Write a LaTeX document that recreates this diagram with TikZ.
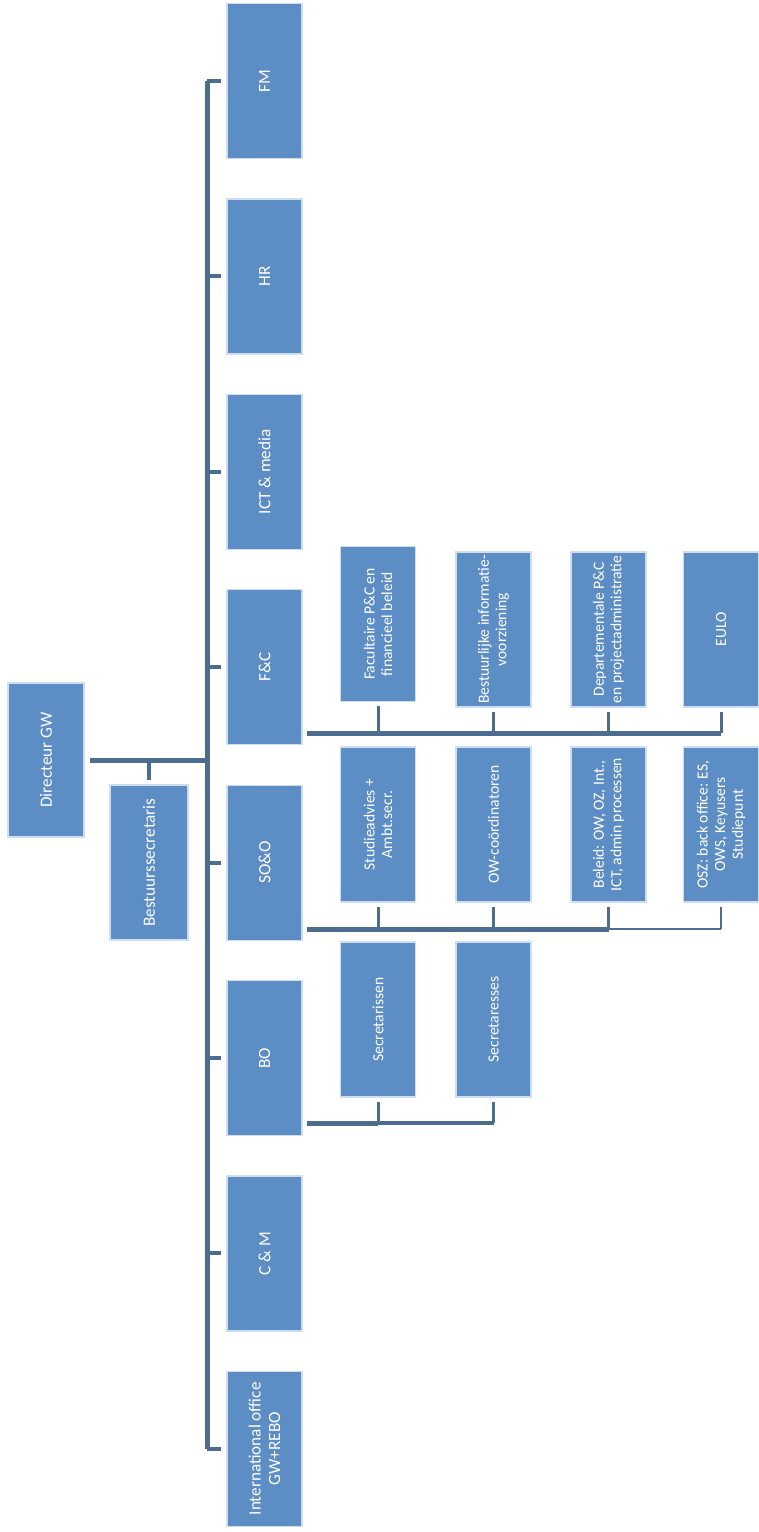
\documentclass[tikz,border=0pt]{standalone}
\usepackage{fontspec}
\setmainfont{Carlito}
\definecolor{boxblue}{RGB}{92,141,196}
\definecolor{boxedge}{RGB}{205,222,240}
\definecolor{linec}{RGB}{76,108,144}
\begin{document}
\begin{tikzpicture}[x=0.5pt,y=-0.5pt,
  box/.style={rotate=90, fill=boxblue, draw=boxedge, line width=0.6pt, text=white,
    font=\fontsize{7.8}{8.8}\selectfont, align=center,
    minimum width=77.5pt, minimum height=37.5pt, inner sep=1pt},
  mainbox/.style={box, font=\fontsize{8.6}{9.8}\selectfont},
  conn/.style={draw=linec, line width=2.5pt},
  stub/.style={draw=linec, line width=2pt},
  cstub/.style={draw=linec, line width=1.5pt},
  thin/.style={draw=linec, line width=1pt}]
\useasboundingbox (0,0) rectangle (759,1532);

% top level
\node[mainbox, minimum height=38pt, minimum width=77pt] (dir) at (46,760) {Directeur GW};
\node[mainbox, minimum height=39pt] (bs) at (149,862.5) {Bestuurssecretaris};

% main column
\node[mainbox] (fm)   at (264.5,81)     {FM};
\node[mainbox] (hr)   at (264.5,276.4)  {HR};
\node[mainbox] (ict)  at (264.5,471.8)  {ICT \& media};
\node[mainbox] (fc)   at (264.5,667.2)  {F\&C};
\node[mainbox] (soo)  at (264.5,862.6)  {SO\&O};
\node[mainbox] (bo)   at (264.5,1058)   {BO};
\node[mainbox] (cm)   at (264.5,1253.4) {C \& M};
\node[mainbox] (intl) at (264.5,1448.8) {International office\\GW+REBO};

% F&C children
\node[box] (fc1) at (378,624)    {Facultaire P\&C en\\financieel beleid};
\node[box] (fc2) at (493.5,629.5) {Bestuurlijke informatie-\\voorziening};
\node[box] (fc3) at (608.5,629.5) {Departementale P\&C\\en projectadministratie};
\node[box] (fc4) at (721,629.5)   {EULO};

% SO&O children
\node[box] (so1) at (378,824.5)   {Studieadvies +\\Ambt.secr.};
\node[box] (so2) at (493.5,824.5) {OW-coördinatoren};
\node[box] (so3) at (608.5,824.5) {Beleid: OW, OZ, Int.,\\ICT, admin processen};
\node[box] (so4) at (721,824.5)   {OSZ: back office: ES,\\OWS, Keyusers\\Studiepunt};

% BO children
\node[box] (bo1) at (378,1019.5)   {Secretarissen};
\node[box] (bo2) at (493.5,1019.5) {Secretaresses};

% spine
\coordinate (spine) at (207,0);
\draw[conn] (spine |- fm) -- (spine |- intl);
\foreach \n in {fm,hr,ict,fc,soo,bo,cm,intl}
  \draw[stub, shorten >=2.5pt] (spine |- \n) -- (\n.north);

% directeur link
\draw[conn, shorten <=2.5pt] (dir.south) -- (spine |- dir);
\draw[stub, shorten >=2pt] (bs.east |- dir) -- (bs.east);

% F&C bus
\coordinate (fcbus) at (307,733);
\draw[conn] (fcbus) -- (fcbus -| fc4);
\foreach \n in {fc1,fc2,fc3,fc4}
  \draw[cstub, shorten >=2pt] (fcbus -| \n) -- (\n.west);

% SO&O bus
\coordinate (sobus) at (307,929);
\draw[conn] (sobus) -- (sobus -| so3);
\draw[thin] (sobus -| so3) -- (sobus -| so4);
\foreach \n in {so1,so2,so3}
  \draw[cstub, shorten >=2pt] (sobus -| \n) -- (\n.west);
\draw[thin, shorten >=2pt] (sobus -| so4) -- (so4.west);

% BO bus
\coordinate (bobus) at (307,1123);
\draw[conn] (bobus) -- (bobus -| bo1);
\draw[stub] (bobus -| bo1) -- (bobus -| bo2);
\foreach \n in {bo1,bo2}
  \draw[cstub, shorten >=2pt] (bobus -| \n) -- (\n.west);
\end{tikzpicture}
\end{document}
